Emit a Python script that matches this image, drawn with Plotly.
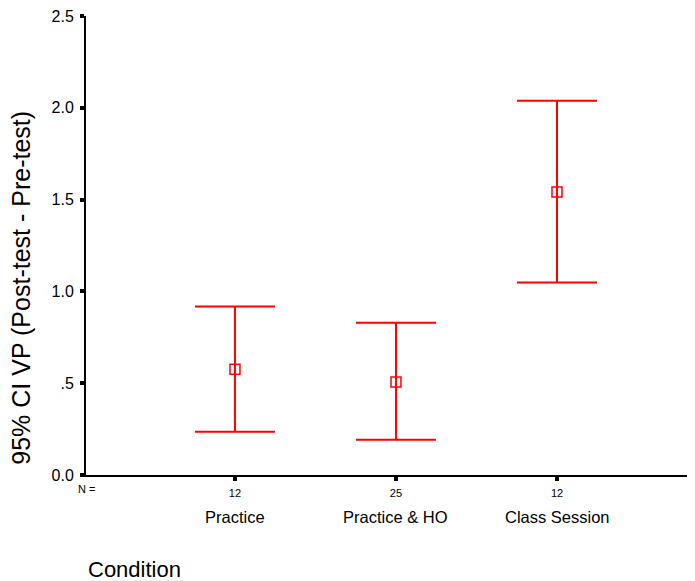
import plotly.graph_objects as go

categories = ["Practice", "Practice & HO", "Class Session"]
n_values = ["12", "25", "12"]
means = [0.576, 0.507, 1.541]
upper = [0.918, 0.829, 2.039]
lower = [0.236, 0.192, 1.049]
y_tickvals = [0.0, 0.5, 1.0, 1.5, 2.0, 2.5]
y_ticktext = ["0.0", ".5", "1.0", "1.5", "2.0", "2.5"]

xpos = [1, 2, 3]
err_plus = [u - m for u, m in zip(upper, means)]
err_minus = [m - l for m, l in zip(means, lower)]

FONT = "Liberation Sans, Arial, sans-serif"

fig = go.Figure()
fig.add_trace(go.Scatter(
    x=xpos, y=means, mode="markers",
    marker=dict(symbol="square-open", size=10, color="#ff0000", line=dict(width=1.5, color="#ff0000")),
    error_y=dict(type="data", symmetric=False, array=err_plus, arrayminus=err_minus,
                 color="#ff0000", thickness=2, width=40),
    showlegend=False, hoverinfo="skip",
))

annotations = []
for x, c in zip(xpos, categories):
    annotations.append(dict(x=x, y=0, xref="x", yref="paper", text=c, showarrow=False,
                            yshift=-42, yanchor="middle", xanchor="center",
                            font=dict(family=FONT, size=16.5, color="black")))
annotations.append(dict(x=0, y=0, xref="paper", yref="paper", text="N =", showarrow=False,
                        xshift=0, yshift=-14, yanchor="middle", xanchor="center",
                        font=dict(family=FONT, size=11, color="black")))
annotations.append(dict(x=0, y=0, xref="paper", yref="paper", text="Condition", showarrow=False,
                        xshift=0, yshift=-94, yanchor="middle", xanchor="left",
                        font=dict(family=FONT, size=22, color="black")))
annotations.append(dict(x=0, y=0.408, xref="paper", yref="paper",
                        text="95% CI VP (Post-test - Pre-test)", showarrow=False,
                        textangle=-90, xshift=-65, yanchor="middle", xanchor="center",
                        font=dict(family=FONT, size=25, color="black")))

fig.update_layout(
    width=687, height=573,
    margin=dict(l=78, r=0, t=8, b=106),
    paper_bgcolor="white", plot_bgcolor="white",
    font=dict(family=FONT, color="black"),
    xaxis=dict(range=[0.075, 3.857], tickvals=xpos, ticktext=n_values,
               tickfont=dict(size=11), ticks="outside", ticklen=4, tickwidth=4,
               ticklabelstandoff=3,
               tickcolor="black", showline=True, linecolor="black", linewidth=2,
               showgrid=False, zeroline=False),
    yaxis=dict(range=[0, 2.5], tickvals=y_tickvals, ticktext=y_ticktext,
               tickfont=dict(size=16), ticks="outside", ticklen=4, tickwidth=4,
               ticklabelstandoff=3, ticklabeloverflow="allow",
               tickcolor="black", showline=True, linecolor="black", linewidth=2,
               showgrid=False, zeroline=False),
    annotations=annotations,
)

fig.write_html("out.html")
